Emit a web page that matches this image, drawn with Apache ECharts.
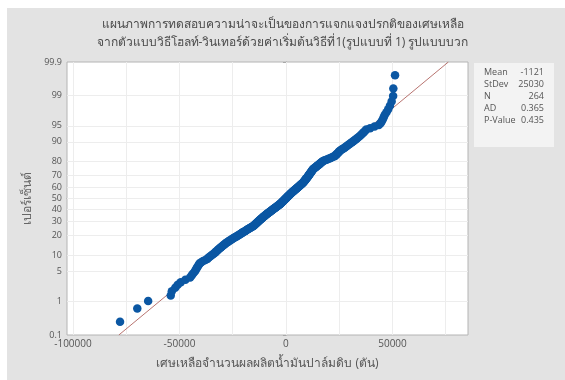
<!DOCTYPE html>
<html>
<head>
<meta charset="utf-8">
<script src="https://cdn.jsdelivr.net/npm/echarts@6/dist/echarts.min.js"></script>
<style>
  html, body { margin: 0; padding: 0; background: #ffffff; }
  #chart { width: 565px; height: 380px; }
</style>
</head>
<body>
<div id="chart"></div>
<script>
// Sorted residuals (tons) of the Holt-Winters additive model
const residuals = [
  -77900, -69800, -64700, -54100, -53600, -52000, -50800, -49400, -47200, -45000,
  -44300, -43700, -43000, -42500, -42100, -41700, -41300, -40900, -40600, -39800,
  -38900, -37800, -36900, -36400, -35800, -35200, -34600, -34100, -33500, -33100,
  -32700, -32200, -31800, -31400, -30900, -30500, -30100, -29700, -29200, -28800,
  -28400, -28000, -27500, -27000, -26600, -26100, -25600, -25100, -24700, -24200,
  -23700, -23200, -22800, -22300, -21800, -21400, -21000, -20600, -20200, -19800,
  -19300, -18900, -18500, -18100, -17700, -17300, -16900, -16500, -16100, -15700,
  -15300, -15000, -14800, -14500, -14300, -14000, -13800, -13500, -13300, -13000,
  -12800, -12500, -12300, -12000, -11800, -11500, -11300, -11000, -10800, -10500,
  -10300, -10000, -9800, -9500, -9300, -9000, -8700, -8500, -8200, -7900,
  -7600, -7400, -7100, -6800, -6600, -6300, -6000, -5800, -5500, -5200,
  -4900, -4700, -4400, -4100, -3900, -3600, -3300, -3100, -2800, -2600,
  -2400, -2200, -2000, -1800, -1600, -1400, -1200, -1000, -800, -600,
  -400, -200, 30, 200, 400, 600, 800, 1000, 1200, 1400,
  1600, 1800, 2000, 2200, 2400, 2600, 2800, 3000, 3300, 3500,
  3700, 4000, 4200, 4400, 4700, 4900, 5100, 5400, 5600, 5800,
  6100, 6300, 6500, 6800, 7000, 7200, 7500, 7700, 7900, 8100,
  8300, 8500, 8600, 8800, 9000, 9100, 9300, 9500, 9600, 9800,
  10000, 10100, 10300, 10500, 10600, 10800, 11000, 11100, 11300, 11500,
  11600, 11800, 12000, 12100, 12300, 12500, 12600, 12800, 13100, 13400,
  13800, 14100, 14400, 14700, 15000, 15400, 15700, 16000, 16300, 16600,
  17000, 17300, 17900, 18600, 19300, 20000, 20700, 21400, 22100, 22800,
  23200, 23500, 23800, 24100, 24500, 24800, 25100, 25500, 26000, 26600,
  27100, 27700, 28200, 28800, 29300, 29900, 30400, 31000, 31600, 32200,
  32800, 33400, 34100, 34700, 35300, 35900, 36500, 37100, 37700, 39500,
  41600, 43600, 44400, 44900, 45400, 45900, 46400, 47200, 48000, 48800,
  49600, 50300, 50400, 51200
];

// Summary statistics shown in the side box
const statLabels = ['Mean', 'StDev', 'N', 'AD', 'P-Value'];
const statValues = ['-1121', '25030', '264', '0.365', '0.435'];
const fitMean = -1121;
const fitStDev = 25030;

// Probability-scale tick labels (percent) and x tick labels
const percentTicks = [0.1, 1, 5, 10, 20, 30, 40, 50, 60, 70, 80, 90, 95, 99, 99.9];
const xLabelTicks = [-100000, -50000, 0, 50000];
const xGridTicks = [-100000, -75000, -50000, -25000, 0, 25000, 50000, 75000];

const titleLines = [
  'แผนภาพการทดสอบความน่าจะเป็นของการแจกแจงปรกติของเศษเหลือ',
  'จากตัวแบบวิธีโฮลท์-วินเทอร์ด้วยค่าเริ่มต้นวิธีที่1(รูปแบบที่ 1) รูปแบบบวก'
];
const xName = 'เศษเหลือจำนวนผลผลิตน้ำมันปาล์มดิบ (ตัน)';
const yName = 'เปอร์เซ็นต์';

// Inverse standard normal CDF (Acklam's rational approximation)
function normInv(p) {
  const a = [-3.969683028665376e+01, 2.209460984245205e+02, -2.759285104469687e+02,
             1.383577518672690e+02, -3.066479806614716e+01, 2.506628277459239e+00];
  const b = [-5.447609879822406e+01, 1.615858368580409e+02, -1.556989798598866e+02,
             6.680131188771972e+01, -1.328068155288572e+01];
  const c = [-7.784894002430293e-03, -3.223964580411365e-01, -2.400758277161838e+00,
             -2.549671010243869e+00, 4.374664141464968e+00, 2.938163982698783e+00];
  const d = [7.784695709041462e-03, 3.224671290700398e-01, 2.445134137142996e+00,
             3.754408661907416e+00];
  const pl = 0.02425, ph = 1 - pl;
  let q, r;
  if (p < pl) {
    q = Math.sqrt(-2 * Math.log(p));
    return (((((c[0]*q+c[1])*q+c[2])*q+c[3])*q+c[4])*q+c[5]) /
           ((((d[0]*q+d[1])*q+d[2])*q+d[3])*q+1);
  }
  if (p <= ph) {
    q = p - 0.5; r = q * q;
    return (((((a[0]*r+a[1])*r+a[2])*r+a[3])*r+a[4])*r+a[5])*q /
           (((((b[0]*r+b[1])*r+b[2])*r+b[3])*r+b[4])*r+1);
  }
  q = Math.sqrt(-2 * Math.log(1 - p));
  return -(((((c[0]*q+c[1])*q+c[2])*q+c[3])*q+c[4])*q+c[5]) /
          ((((d[0]*q+d[1])*q+d[2])*q+d[3])*q+1);
}

const n = residuals.length;
// Median-rank plotting positions on the normal-score scale
const points = residuals.map((v, i) => [v, normInv((i + 1 - 0.3) / (n + 0.4))]);
const zTicks = percentTicks.map(p => normInv(p / 100));
const zMin = zTicks[0];
const zMax = zTicks[zTicks.length - 1];
const fitLine = [[fitMean + fitStDev * zMin, zMin], [fitMean + fitStDev * zMax, zMax]];

function percentLabel(z) {
  let best = 0;
  zTicks.forEach((t, i) => { if (Math.abs(t - z) < Math.abs(zTicks[best] - z)) best = i; });
  return String(percentTicks[best]);
}

const font = '"Open Sans", "Noto Sans", sans-serif';
const gridLine = { color: '#ededed', width: 1, type: 'solid' };

const chart = echarts.init(document.getElementById('chart'), null, { renderer: 'canvas' });

const statGraphics = [];
statLabels.forEach((lab, i) => {
  statGraphics.push({
    type: 'text', left: 484, top: 68 + i * 12, z: 20,
    style: { text: lab, fill: '#555', font: '9px ' + font }
  });
  statGraphics.push({
    type: 'text', right: 565 - 544, top: 68 + i * 12, z: 20,
    style: { text: i === 2 ? String(n) : statValues[i], fill: '#555', font: '9px ' + font, align: 'right' }
  });
});

chart.setOption({
  animation: false,
  backgroundColor: '#ffffff',
  textStyle: { fontFamily: font },
  graphic: [
    { type: 'rect', left: 7, top: 8, z: -100, shape: { width: 558, height: 372 }, style: { fill: '#e3e3e3' } },
    { type: 'rect', left: 474, top: 63, z: 10, shape: { width: 80, height: 84 }, style: { fill: '#f3f3f3' } },
    { type: 'text', left: 'center', top: 19, z: 20, style: { text: titleLines[0], fill: '#4a4a4a', font: '12px ' + font, align: 'center' } },
    { type: 'text', left: 'center', top: 37, z: 20, style: { text: titleLines[1], fill: '#4a4a4a', font: '12px ' + font, align: 'center' } }
  ].concat(statGraphics),
  grid: {
    left: 67, top: 62, right: 97, bottom: 45,
    show: true, backgroundColor: '#ffffff', borderColor: '#b4b4b4', borderWidth: 1
  },
  xAxis: {
    type: 'value', min: -102800, max: 85450,
    name: xName, nameLocation: 'middle', nameGap: 23,
    nameTextStyle: { fontSize: 12, color: '#555' },
    axisLine: { show: true, lineStyle: { color: '#a8a8a8' } },
    axisTick: { show: true, customValues: xLabelTicks, length: 3, lineStyle: { color: '#a8a8a8' } },
    axisLabel: { customValues: xLabelTicks, fontSize: 10, color: '#555', margin: 4, formatter: v => String(v) },
    splitLine: { show: false }
  },
  yAxis: {
    type: 'value', min: zMin, max: zMax,
    name: yName, nameLocation: 'middle', nameGap: 31, nameRotate: 90,
    nameTextStyle: { fontSize: 12, color: '#666' },
    axisLine: { show: true, lineStyle: { color: '#a8a8a8' } },
    axisTick: { show: true, customValues: zTicks, length: 3, lineStyle: { color: '#a8a8a8' } },
    axisLabel: { customValues: zTicks, fontSize: 9, color: '#555', margin: 5, formatter: v => percentLabel(v) },
    splitLine: { show: false }
  },
  series: [
    {
      type: 'line', data: [], silent: true, z: 1,
      markLine: {
        silent: true, symbol: 'none', z: 1, label: { show: false }, lineStyle: gridLine,
        emphasis: { disabled: true },
        data: xGridTicks.map(v => ({ xAxis: v })).concat(zTicks.slice(1, -1).map(z => ({ yAxis: z })))
      }
    },
    {
      type: 'line', data: fitLine, showSymbol: false, silent: true, z: 3,
      lineStyle: { color: '#b87470', width: 1 }
    },
    {
      type: 'scatter', data: points, symbolSize: 8.5, z: 4,
      itemStyle: { color: '#0b57a3', opacity: 1 }
    }
  ]
});
</script>
</body>
</html>
